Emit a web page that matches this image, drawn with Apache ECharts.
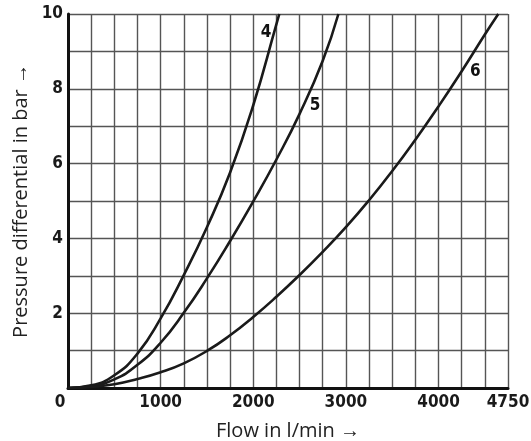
<!DOCTYPE html>
<html lang="en">
<head>
<meta charset="utf-8" />
<script src="https://cdn.jsdelivr.net/npm/echarts@6/dist/echarts.min.js"></script>
<style>
  html, body { margin: 0; padding: 0; background: #fff; }
  #main { width: 531px; height: 441px; }
</style>
</head>
<body>
<div id="main"></div>
<script>
// flow in l/min -> pressure differential in bar
var flow4 = [0, 250, 500, 750, 1000, 1250, 1500, 1750, 2000, 2250, 2281];
var dp4   = [0, 0.07, 0.34, 0.92, 1.86, 3.02, 4.3, 5.76, 7.56, 9.73, 10];
var flow5 = [0, 250, 500, 750, 1000, 1250, 1500, 1750, 2000, 2250, 2500, 2750, 2919];
var dp5   = [0, 0.05, 0.23, 0.62, 1.21, 2.01, 2.93, 3.93, 4.99, 6.11, 7.33, 8.75, 10];
var flow6 = [0, 250, 500, 750, 1000, 1250, 1500, 1750, 2000, 2250, 2500, 2750, 3000, 3250, 3500, 3750, 4000, 4250, 4500, 4645];
var dp6   = [0, 0.03, 0.1, 0.24, 0.42, 0.66, 0.99, 1.41, 1.9, 2.44, 3.02, 3.64, 4.3, 5.02, 5.8, 6.64, 7.53, 8.47, 9.45, 10];

var xTickLabels = [0, 1000, 2000, 3000, 4000, 4750];
var yTickLabels = [2, 4, 6, 8, 10];

// curve name labels: [flow, pressure, name]
var curveLabels = [[2137, 9.49, '4'], [2667, 7.55, '5'], [4397, 8.45, '6']];

var numFont = "'Liberation Sans Narrow', 'DejaVu Sans Condensed', sans-serif";
var textFont = "'Open Sans', 'Noto Sans', sans-serif";

function pairs(xs, ys) {
  return xs.map(function (x, i) { return [x, ys[i]]; });
}

function curve(xs, ys) {
  return {
    type: 'line',
    data: pairs(xs, ys),
    smooth: 0.5,
    showSymbol: false,
    symbol: 'none',
    lineStyle: { color: '#1a1a1a', width: 2.6 },
    silent: true
  };
}

var chart = echarts.init(document.getElementById('main'), null, { renderer: 'canvas' });
chart.setOption({
  animation: false,
  grid: { left: 68, right: 23, top: 14, bottom: 53, outerBoundsMode: 'none', containLabel: false },
  xAxis: {
    type: 'value',
    min: 0, max: 4750, interval: 250,
    name: 'Flow in l/min \u2192',
    nameLocation: 'middle',
    nameGap: 33,
    nameTextStyle: { fontFamily: textFont, fontSize: 20, color: '#222' },
    axisLine: { show: true, onZero: false, lineStyle: { color: '#111', width: 3 } },
    axisTick: { show: false },
    axisLabel: {
      interval: 0,
      margin: 6,
      showMaxLabel: true,
      fontFamily: numFont, fontWeight: 'bold', fontSize: 17, color: '#1a1a1a',
      formatter: function (v) {
        if (v === 0) return '{z|0}';
        return xTickLabels.indexOf(v) >= 0 ? String(v) : '';
      },
      rich: { z: { padding: [0, 16, 0, 0], fontFamily: numFont, fontWeight: 'bold', fontSize: 17, color: '#1a1a1a' } }
    },
    splitLine: { show: true, lineStyle: { color: '#555', width: 1.4 } }
  },
  yAxis: {
    type: 'value',
    min: 0, max: 10, interval: 1,
    name: 'Pressure differential in bar \u2192',
    nameLocation: 'middle',
    nameGap: 35,
    nameTextStyle: { fontFamily: textFont, fontSize: 20, color: '#222' },
    axisLine: { show: true, onZero: false, lineStyle: { color: '#111', width: 3 } },
    axisTick: { show: false },
    axisLabel: {
      interval: 0,
      margin: 5,
      showMaxLabel: true,
      fontFamily: numFont, fontWeight: 'bold', fontSize: 17, color: '#1a1a1a',
      formatter: function (v) { return yTickLabels.indexOf(v) >= 0 ? String(v) : ''; }
    },
    splitLine: { show: true, lineStyle: { color: '#555', width: 1.4 } }
  },
  series: [
    curve(flow4, dp4),
    curve(flow5, dp5),
    curve(flow6, dp6),
    {
      type: 'scatter',
      data: curveLabels,
      symbolSize: 0,
      itemStyle: { color: '#1a1a1a', opacity: 1 },
      silent: true,
      label: {
        show: true,
        position: 'inside',
        formatter: function (p) { return p.value[2]; },
        fontFamily: numFont,
        fontWeight: 'bold',
        fontSize: 17,
        color: '#111',
        opacity: 1,
        textBorderWidth: 0
      }
    }
  ]
});
</script>
</body>
</html>
